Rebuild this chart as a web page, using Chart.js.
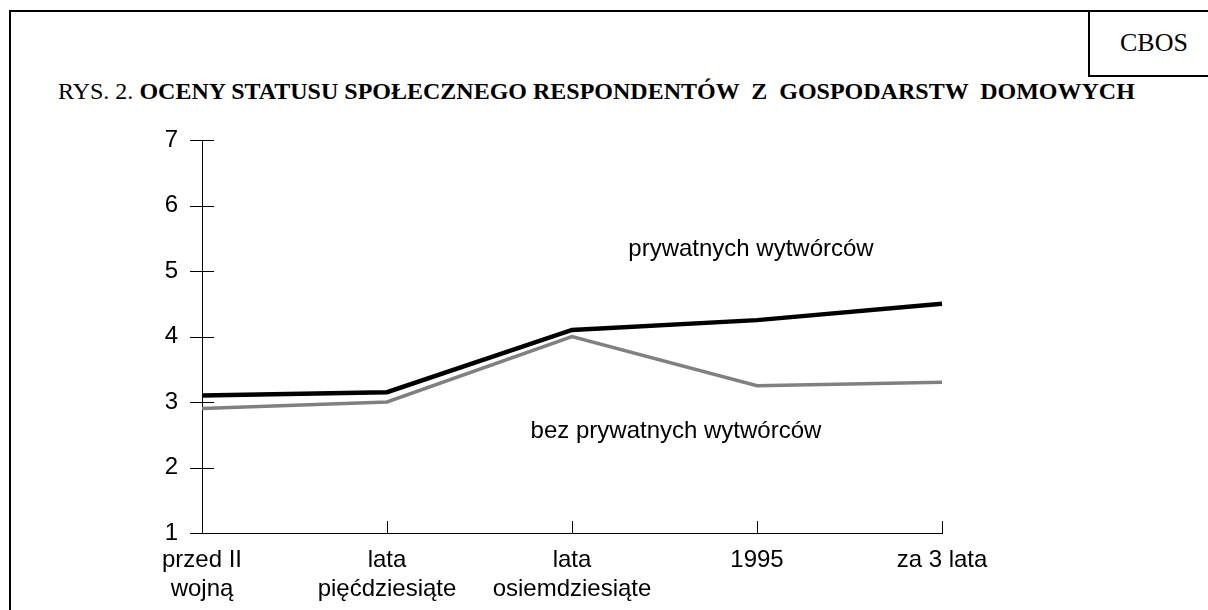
<!DOCTYPE html>
<html lang="pl">
<head>
<meta charset="UTF-8">
<title>Oceny statusu społecznego</title>
<style>
  body { margin: 0; background: #fff; }
  .ramka { position: absolute; left: 9px; top: 10px; width: 1300px; height: 700px; border: 2px solid #000; box-sizing: border-box; }
  .cbos { position: absolute; left: 1088px; top: 10px; width: 200px; height: 67px; border: 2px solid #000; box-sizing: border-box;
          font-family: "Liberation Serif", serif; font-size: 26px; padding: 16px 0 0 30px; }
  .tytul { position: absolute; left: 58px; top: 78px; font-family: "Liberation Serif", serif; font-size: 24px; white-space: pre; }
  .wykres { position: absolute; left: 0; top: 0; width: 1208px; height: 610px; }
</style>
</head>
<body>
<div class="ramka"></div>
<div class="cbos">CBOS</div>
<div class="tytul">RYS. 2. <b>OCENY STATUSU SPOŁECZNEGO RESPONDENTÓW  Z  GOSPODARSTW  DOMOWYCH</b></div>
<div class="wykres"><canvas id="myChart" width="1208" height="610"></canvas></div>

<script src="https://cdn.jsdelivr.net/npm/chart.js@4/dist/chart.umd.min.js"></script>
<script>
    // kategorie i wartości
    const okresy = [['przed II', 'wojną'], ['lata', 'pięćdziesiąte'], ['lata', 'osiemdziesiąte'], '1995', 'za 3 lata'];
    const prywatni = [3.1, 3.15, 4.1, 4.25, 4.5];
    const bezPrywatnych = [2.9, 3.0, 4.0, 3.25, 3.3];
    const skalaY = [1, 2, 3, 4, 5, 6, 7];

    const czcionka = { family: '"Liberation Sans", Arial, sans-serif', size: 24 };

    // kreski podziałki przecinające osie + podpisy linii
    const kreski = {
        id: 'kreski',
        afterDraw(chart) {
            const ctx = chart.ctx;
            const x = chart.scales.x, y = chart.scales.y;
            ctx.save();
            ctx.strokeStyle = '#000';
            ctx.lineWidth = 1;
            ctx.beginPath();
            skalaY.forEach(function (v) {
                const py = Math.round(y.getPixelForValue(v)) + 0.5;
                ctx.moveTo(x.left - 12, py);
                ctx.lineTo(x.left + 12, py);
            });
            for (let i = 1; i < okresy.length; i++) {
                const px = Math.round(x.getPixelForValue(i)) + 0.5;
                ctx.moveTo(px, y.bottom);
                ctx.lineTo(px, y.bottom - 12);
            }
            ctx.stroke();

            ctx.fillStyle = '#000';
            ctx.font = czcionka.size + 'px ' + czcionka.family;
            ctx.textAlign = 'center';
            ctx.textBaseline = 'middle';
            ctx.fillText('prywatnych wytwórców', x.getPixelForValue(3) - 6, y.getPixelForValue(5.33));
            ctx.fillText('bez prywatnych wytwórców', x.getPixelForValue(2) + 104, y.getPixelForValue(2.55));
            ctx.restore();
        }
    };

    new Chart(document.getElementById('myChart'), {
        type: 'line',
        data: {
            labels: okresy,
            datasets: [{
                label: 'prywatnych wytwórców',
                data: prywatni,
                borderColor: '#000',
                borderWidth: 4.5,
                pointRadius: 0,
                tension: 0
            }, {
                label: 'bez prywatnych wytwórców',
                data: bezPrywatnych,
                borderColor: '#808080',
                borderWidth: 3.5,
                pointRadius: 0,
                tension: 0
            }]
        },
        options: {
            responsive: false,
            animation: false,
            layout: { padding: { left: 0, top: 140, right: 266, bottom: 0 } },
            plugins: { legend: { display: false }, tooltip: { enabled: false } },
            scales: {
                x: {
                    offset: false,
                    grid: { display: false, drawTicks: false },
                    border: { display: true, color: '#000', width: 1 },
                    ticks: { color: '#000', font: czcionka, maxRotation: 0, autoSkip: false, padding: 13 },
                    afterFit: function (s) { s.height = 77; }
                },
                y: {
                    min: 1,
                    max: 7,
                    grid: { display: false, drawTicks: false },
                    border: { display: true, color: '#000', width: 1 },
                    ticks: { color: '#000', font: czcionka, stepSize: 1, padding: 24 },
                    afterFit: function (s) { s.width = 202; }
                }
            }
        },
        plugins: [kreski]
    });
</script>
</body>
</html>
